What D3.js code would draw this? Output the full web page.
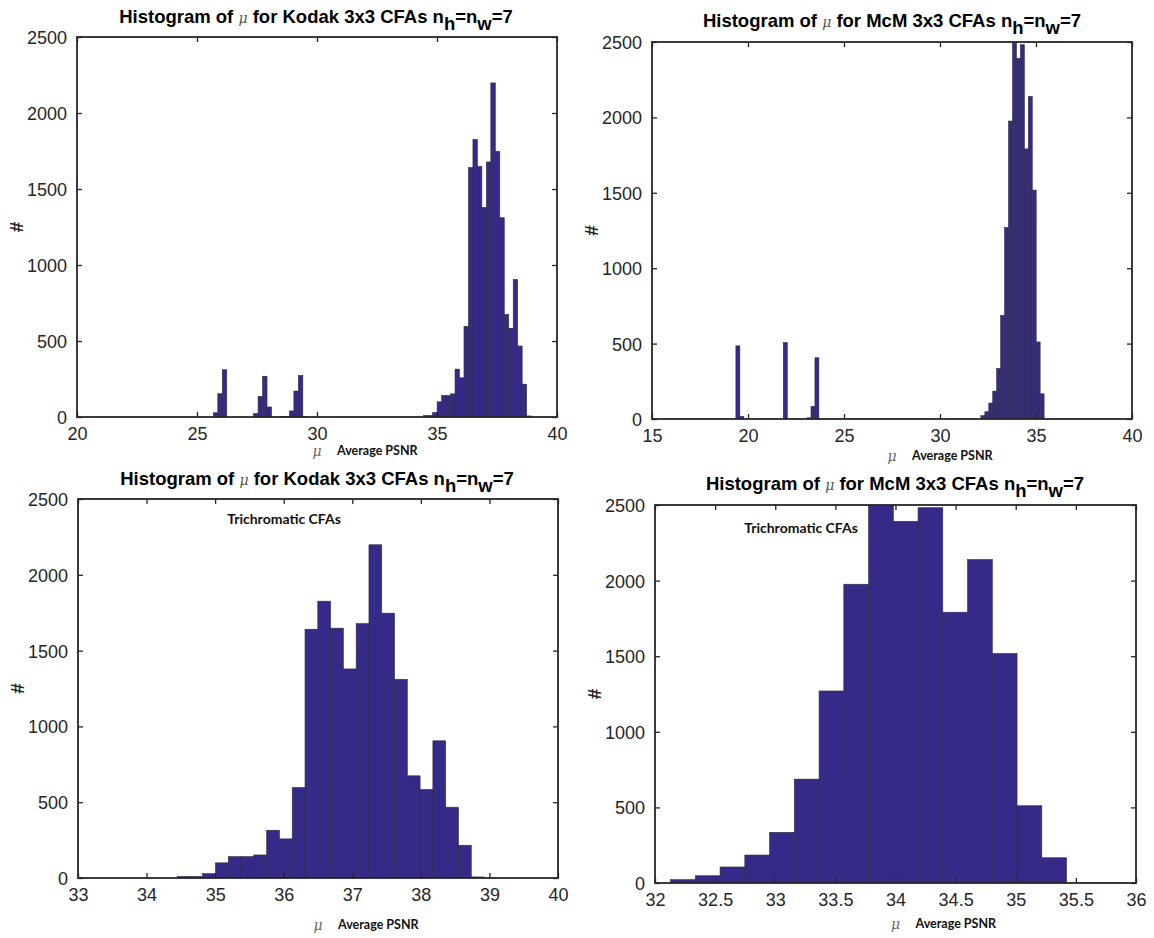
<!DOCTYPE html>
<html>
<head>
<meta charset="utf-8">
<script src="https://cdn.jsdelivr.net/npm/d3@7"></script>
<style>
  html, body { margin: 0; padding: 0; background: #fff; }
  svg { display: block; }
</style>
</head>
<body>
<svg id="chart" width="1154" height="938"></svg>
<script>
// ---------------- DATA ----------------
// Kodak: histogram bins (left edge of bin 0 and bin width) and counts
const kodakBinStart = 25.68;
const kodakBinWidth = 0.1865;
const kodakCounts = [
  28, 153, 311, 0, 0, 0, 0, 0, 0, 22,
  136, 268, 66, 0, 0, 2, 4, 40, 171, 274,
  3, 0, 0, 0, 0, 0, 0, 0, 0, 0,
  0, 0, 0, 0, 0, 0, 0, 0, 0, 0,
  0, 0, 0, 0, 0, 0, 0, 10, 10, 29,
  100, 141, 141, 152, 315, 258, 597, 1641, 1826, 1648,
  1379, 1678, 2198, 1747, 1311, 674, 584, 905, 467, 216,
  7
];
// McM: histogram bins and counts
const mcmBinStart = 19.37;
const mcmBinWidth = 0.2058;
const mcmCounts = [
  485, 17, 0, 0, 0, 0, 0, 0, 0, 0,
  0, 0, 507, 0, 0, 0, 0, 0, 8, 84,
  406, 0, 0, 0, 0, 0, 0, 0, 0, 0,
  0, 0, 0, 0, 0, 0, 0, 0, 0, 0,
  0, 0, 0, 0, 0, 0, 0, 0, 0, 0,
  0, 0, 0, 0, 0, 0, 0, 0, 0, 0,
  0, 0, 22, 48, 106, 185, 335, 687, 1270, 1976,
  2540, 2392, 2482, 1791, 2139, 1518, 511, 167
];

// Tick labels
const yTicks = [0, 500, 1000, 1500, 2000, 2500];
const xTicksKodakFull = [20, 25, 30, 35, 40];
const xTicksMcmFull = [15, 20, 25, 30, 35, 40];
const xTicksKodakZoom = [33, 34, 35, 36, 37, 38, 39, 40];
const xTicksMcmZoom = [32, 32.5, 33, 33.5, 34, 34.5, 35, 35.5, 36];

const annotationText = "Trichromatic CFAs";
const xLabelText = "Average PSNR";
const yLabelText = "#";

// ---------------- LAYOUT ----------------
const panels = [
  { name: "Kodak", start: kodakBinStart, width: kodakBinWidth, counts: kodakCounts,
    xDomain: [20, 40], xTicks: xTicksKodakFull,
    box: { l: 77, r: 557, t: 37, b: 417 }, titleX: 316, titleY: 23, xlabY: 456, annot: null },
  { name: "McM", start: mcmBinStart, width: mcmBinWidth, counts: mcmCounts,
    xDomain: [15, 40], xTicks: xTicksMcmFull,
    box: { l: 652, r: 1132, t: 42, b: 419 }, titleX: 892, titleY: 27, xlabY: 461, annot: null },
  { name: "Kodak", start: kodakBinStart, width: kodakBinWidth, counts: kodakCounts,
    xDomain: [33, 40], xTicks: xTicksKodakZoom,
    box: { l: 78, r: 558, t: 499, b: 878 }, titleX: 317, titleY: 485, xlabY: 930, annot: { x: 284, y: 524 } },
  { name: "McM", start: mcmBinStart, width: mcmBinWidth, counts: mcmCounts,
    xDomain: [32, 36], xTicks: xTicksMcmZoom,
    box: { l: 655, r: 1136, t: 505, b: 883 }, titleX: 895, titleY: 490, xlabY: 929, annot: { x: 801, y: 533 } }
];

const axisColor = "#262626";
const barFill = "#352a87";
const barStroke = "#2e2e40";

const svg = d3.select("#chart");

panels.forEach((p, pi) => {
  const g = svg.append("g");
  const x = d3.scaleLinear().domain(p.xDomain).range([p.box.l, p.box.r]);
  const y = d3.scaleLinear().domain([0, 2500]).range([p.box.b, p.box.t]);

  const clipId = "clip" + pi;
  svg.append("clipPath").attr("id", clipId)
    .append("rect")
    .attr("x", p.box.l).attr("y", p.box.t)
    .attr("width", p.box.r - p.box.l).attr("height", p.box.b - p.box.t);

  const bins = p.counts.map((c, i) => ({
    x0: p.start + i * p.width,
    x1: p.start + (i + 1) * p.width,
    c: c
  })).filter(d => d.c > 0);

  g.append("g").attr("clip-path", `url(#${clipId})`)
    .selectAll("rect")
    .data(bins)
    .enter().append("rect")
    .attr("x", d => x(d.x0))
    .attr("width", d => Math.max(0.5, x(d.x1) - x(d.x0)))
    .attr("y", d => y(d.c))
    .attr("height", d => y(0) - y(d.c))
    .attr("fill", barFill)
    .attr("stroke", barStroke)
    .attr("stroke-width", 0.6);

  // Axes (MATLAB style: ticks inside, box on)
  const tickLen = 5;
  const xb = d3.axisBottom(x).tickValues(p.xTicks).tickSize(-tickLen).tickPadding(10)
    .tickFormat(d3.format("~g"));
  const xt = d3.axisTop(x).tickValues(p.xTicks).tickSize(-tickLen).tickFormat("");
  const yl = d3.axisLeft(y).tickValues(yTicks).tickSize(-tickLen).tickPadding(10)
    .tickFormat(d3.format("d"));
  const yr = d3.axisRight(y).tickValues(yTicks).tickSize(-tickLen).tickFormat("");

  const gxb = g.append("g").attr("transform", `translate(0,${p.box.b})`).call(xb);
  const gxt = g.append("g").attr("transform", `translate(0,${p.box.t})`).call(xt);
  const gyl = g.append("g").attr("transform", `translate(${p.box.l},0)`).call(yl);
  const gyr = g.append("g").attr("transform", `translate(${p.box.r},0)`).call(yr);

  [gxb, gxt, gyl, gyr].forEach(a => {
    a.select(".domain").remove();
    a.selectAll(".tick line").attr("stroke", axisColor).attr("stroke-width", 1.3);
    a.selectAll(".tick text")
      .attr("fill", axisColor)
      .style("font-family", "'Liberation Sans', Arial, sans-serif")
      .style("font-size", "18px");
  });
  gyl.selectAll(".tick text").attr("dy", "0.36em");

  g.append("rect")
    .attr("x", p.box.l).attr("y", p.box.t)
    .attr("width", p.box.r - p.box.l).attr("height", p.box.b - p.box.t)
    .attr("fill", "none").attr("stroke", axisColor).attr("stroke-width", 1.8);

  // Title
  const t = g.append("text")
    .attr("x", p.titleX).attr("y", p.titleY)
    .attr("text-anchor", "middle")
    .style("font-family", "'Liberation Sans', Arial, sans-serif")
    .style("font-weight", "bold")
    .style("font-size", "18.5px")
    .attr("fill", "#000");
  t.append("tspan").text("Histogram of ");
  t.append("tspan").text("μ")
    .style("font-family", "'DejaVu Serif', serif")
    .style("font-style", "italic").style("font-weight", "normal")
    .style("font-size", "14px").attr("fill", "#555");
  t.append("tspan").text(" for " + p.name + " 3x3 CFAs n");
  t.append("tspan").text("h").attr("dy", 7);
  t.append("tspan").text("=n").attr("dy", -7);
  t.append("tspan").text("w").attr("dy", 7);
  t.append("tspan").text("=7").attr("dy", -7);

  // Y label
  g.append("text")
    .attr("transform", `translate(${p.box.l - 54},${(p.box.t + p.box.b) / 2}) rotate(-90)`)
    .attr("text-anchor", "middle")
    .style("font-family", "'Liberation Sans', Arial, sans-serif")
    .style("font-weight", "bold").style("font-size", "19px")
    .attr("fill", axisColor)
    .text(yLabelText);

  // X label: mu + "Average PSNR"
  const cx = (p.box.l + p.box.r) / 2;
  g.append("text")
    .attr("x", cx).attr("y", p.xlabY)
    .attr("text-anchor", "middle")
    .style("font-family", "'DejaVu Serif', serif")
    .style("font-style", "italic").style("font-size", "14px")
    .attr("fill", "#666")
    .text("μ");
  g.append("text")
    .attr("x", cx + 20).attr("y", p.xlabY - 1)
    .style("font-family", "Lato, 'Open Sans', sans-serif")
    .style("font-weight", "bold").style("font-size", "12.5px")
    .attr("fill", "#111")
    .text(xLabelText);

  if (p.annot) {
    g.append("text")
      .attr("x", p.annot.x).attr("y", p.annot.y)
      .attr("text-anchor", "middle")
      .style("font-family", "Lato, 'Open Sans', sans-serif")
      .style("font-weight", "bold").style("font-size", "14px")
      .attr("fill", "#111")
      .text(annotationText);
  }
});
</script>
</body>
</html>
